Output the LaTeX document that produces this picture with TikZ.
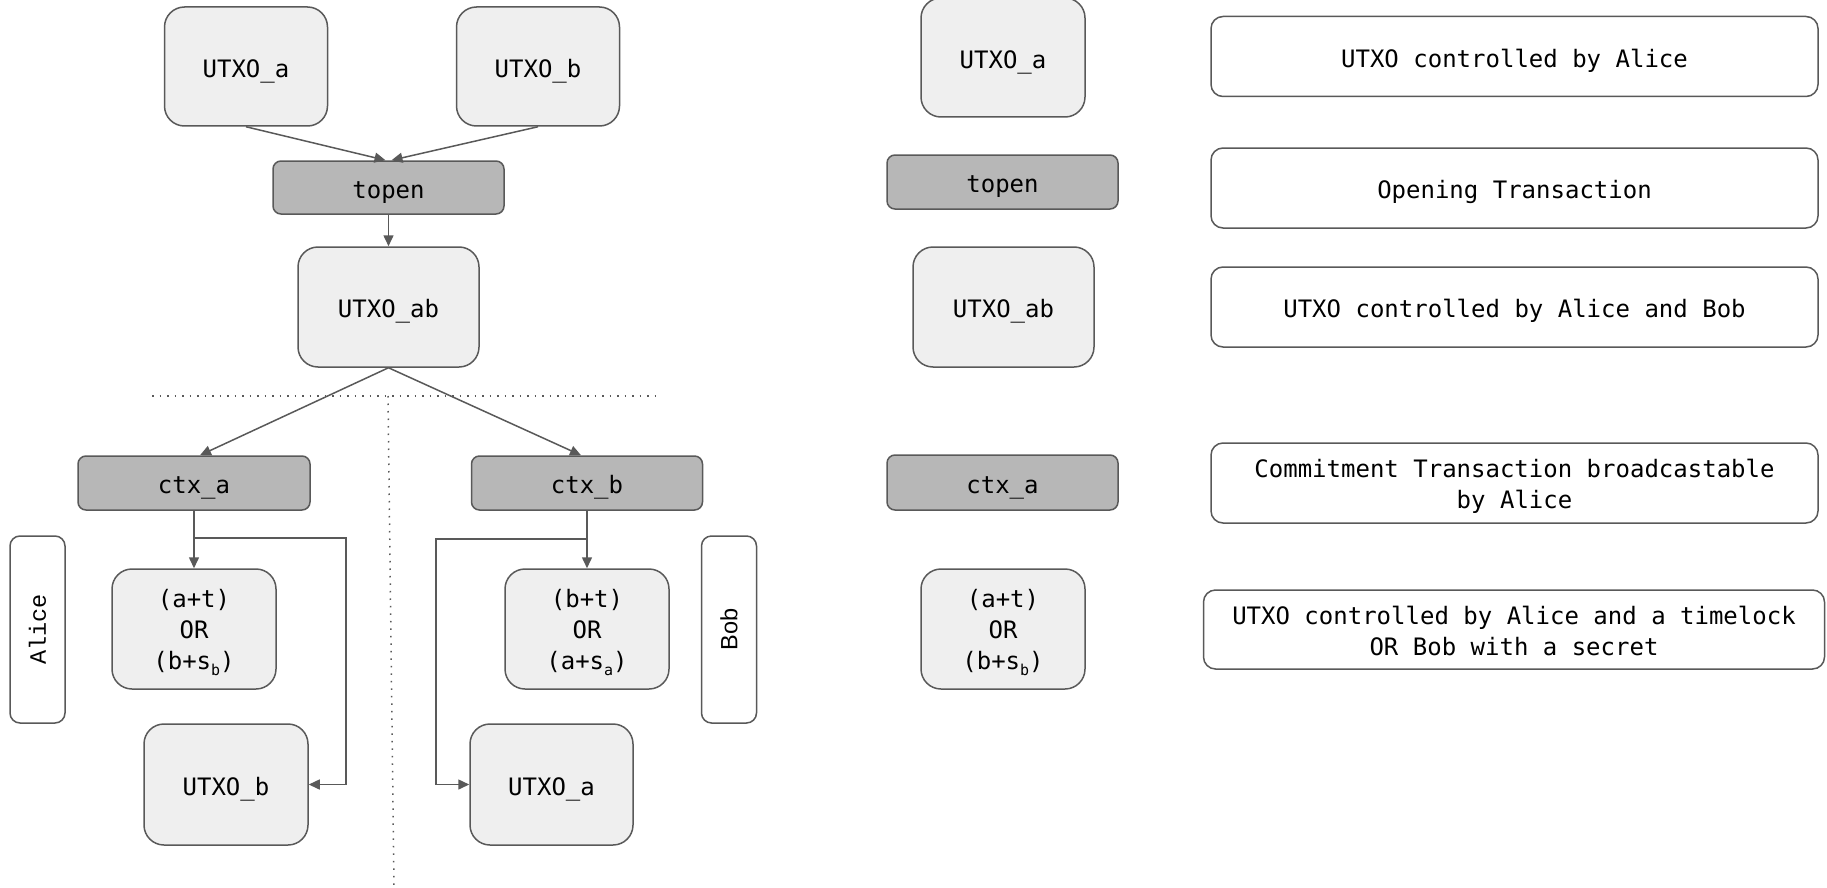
\documentclass[tikz,border=0pt]{standalone}
\usepackage{fontspec}
\setmonofont{DejaVu Sans Mono}
\newfontfamily\alicefont{Liberation Mono}
\newfontfamily\bobfont{Liberation Sans}
\usetikzlibrary{arrows.meta,calc}
\definecolor{edge}{HTML}{595959}
\definecolor{lightfill}{HTML}{EFEFEF}
\definecolor{darkfill}{HTML}{B7B7B7}
\newcommand\subsc[1]{\raisebox{-6pt}{\fontsize{15}{15}\selectfont #1}}
% stacked lines, baseline on the last line
\newcommand\stack[1]{\begin{tabular}[b]{@{}c@{}}#1\end{tabular}}
\tikzset{
  base/.style={draw=edge, line width=1.5pt, inner sep=0pt,
    font=\ttfamily\fontsize{24}{31}\selectfont, text depth=0pt, text height=21.6pt},
  twolines/.style={text height=51.4pt},
  threelines/.style={text height=81.6pt},
  utxo/.style={base, fill=lightfill, rounded corners=20pt},
  txbox/.style={base, fill=darkfill, rounded corners=8pt},
  legend/.style={base, fill=white, rounded corners=12pt},
  party/.style={base, fill=white, rounded corners=10pt},
  conn/.style={draw=edge, line width=1.5pt, -{Triangle[length=11pt,width=10pt]}},
  sep/.style={draw=edge, line width=1.5pt, dash pattern=on 1.5pt off 6pt},
}
\begin{document}
\begin{tikzpicture}[x=1pt,y=-1pt]
\useasboundingbox (0,0) rectangle (1827,888);

% transaction graph
\node[utxo, minimum width=163pt, minimum height=119pt] (ua) at (246,66.5) {UTXO\_a};
\node[utxo, minimum width=163pt, minimum height=119pt] (ub) at (538,66.5) {UTXO\_b};
\node[txbox, minimum width=231pt, minimum height=53pt] (topen) at (388.5,187.5) {topen};
\node[utxo, minimum width=181pt, minimum height=120pt] (uab) at (388.5,307) {UTXO\_ab};
\node[txbox, minimum width=232pt, minimum height=54pt] (ctxa) at (194,483) {ctx\_a};
\node[txbox, minimum width=231pt, minimum height=54pt] (ctxb) at (587,483) {ctx\_b};
\node[party, minimum width=55pt, minimum height=187pt] (alice) at (37.5,629.5) {};
\node[rotate=90, font=\alicefont\fontsize{23.5}{24}\selectfont] (alicet) at (alice.center) {Alice};
\node[party, minimum width=55pt, minimum height=187pt] (bob) at (729,629.5) {};
\node[rotate=90, font=\bobfont\fontsize{23.5}{24}\selectfont] (bobt) at (bob.center) {Bob};
\node[utxo, threelines, minimum width=164pt, minimum height=120pt] (ora) at (194,629) {\stack{(a+t)\\OR\\(b+s\subsc{b})}};
\node[utxo, threelines, minimum width=164pt, minimum height=120pt] (orb) at (587,629) {\stack{(b+t)\\OR\\(a+s\subsc{a})}};
\node[utxo, minimum width=164pt, minimum height=121pt] (lub) at (226,784.5) {UTXO\_b};
\node[utxo, minimum width=163pt, minimum height=121pt] (lua) at (551.5,784.5) {UTXO\_a};

% connectors
\draw[conn] (ua.south) -- ([xshift=-3pt]topen.north);
\draw[conn] (ub.south) -- ([xshift=3pt]topen.north);
\draw[conn] (topen.south) -- (uab.north);
\draw[conn] (uab.south) -- ([xshift=6pt]ctxa.north);
\draw[conn] (uab.south) -- ([xshift=-6pt]ctxb.north);
\draw[conn] (ctxa.south) -- (ora.north);
\draw[conn] (ctxb.south) -- (orb.north);
\coordinate (ja) at (194,538);
\coordinate (jb) at (587,539);
\draw[conn] (ja) -- (346,538) |- (lub.east);
\draw[conn] (jb) -- (436,539) |- (lua.west);

% party separators
\draw[sep] (152,396) -- (661,396);
\draw[sep] (388,396) -- (394,888);

% legend
\node[utxo, minimum width=164pt, minimum height=119pt] (lga) at (1003,57.5) {UTXO\_a};
\node[txbox, minimum width=231pt, minimum height=54pt] (lgt) at (1002.5,182) {topen};
\node[utxo, minimum width=181pt, minimum height=120pt] (lgab) at (1003.5,307) {UTXO\_ab};
\node[txbox, minimum width=231pt, minimum height=55pt] (lgc) at (1002.5,482.5) {ctx\_a};
\node[utxo, threelines, minimum width=164pt, minimum height=120pt] (lgor) at (1003,629) {\stack{(a+t)\\OR\\(b+s\subsc{b})}};

\node[legend, minimum width=607pt, minimum height=80pt] (d1) at (1514.5,56.5) {UTXO controlled by Alice};
\node[legend, minimum width=607pt, minimum height=80pt] (d2) at (1514.5,188) {Opening Transaction};
\node[legend, minimum width=607pt, minimum height=80pt] (d3) at (1514.5,307) {UTXO controlled by Alice and Bob};
\node[legend, twolines, minimum width=607pt, minimum height=80pt] (d4) at (1514.5,483) {\stack{Commitment Transaction broadcastable\\by Alice}};
\node[legend, twolines, minimum width=621pt, minimum height=79pt] (d5) at (1514,629.5) {\stack{UTXO controlled by Alice and a timelock\\OR Bob with a secret}};
\end{tikzpicture}
\end{document}
